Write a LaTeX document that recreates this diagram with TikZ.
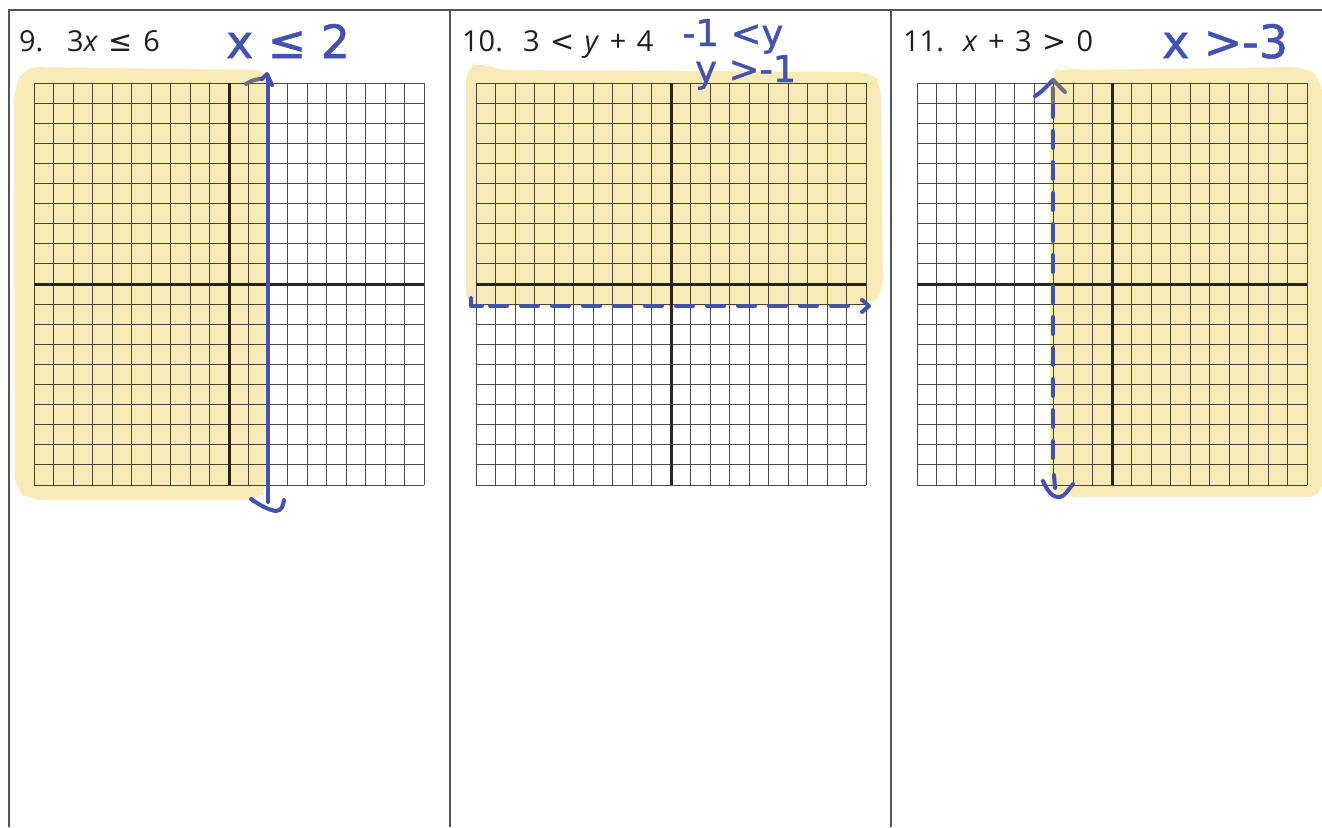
\documentclass[tikz,border=0pt]{standalone}
\usepackage{fontspec}
\setmainfont{Open Sans}
\newfontfamily\symfont{DejaVu Sans}
\newfontfamily\handfont[FakeBold=1.2]{DejaVu Sans}
\definecolor{hl}{HTML}{F9EBB8}
\definecolor{pen}{HTML}{4352B0}
\definecolor{pengray}{HTML}{6E6E7E}
\definecolor{frame}{HTML}{555555}
\definecolor{gridc}{HTML}{4A4A4A}
\newcommand\gp{\hspace{0.36em}}
\tikzset{
  framebox/.style={draw=frame, line width=2bp},
  gridline/.style={draw=gridc, line width=0.9bp},
  axisline/.style={draw=black!85, line width=3bp},
  highlight/.style={fill=hl, blend mode=multiply, rounded corners=14bp},
  penline/.style={draw=pen, line width=4bp, line cap=round, line join=round},
  pendash/.style={penline, dash pattern=on 17bp off 14bp},
  printed/.style={inner sep=0pt, anchor=base west, font=\fontsize{29}{32}\selectfont, text=black!88},
  hand/.style={inner sep=0pt, anchor=base west, text=pen, font=\handfont\fontsize{46}{50}\selectfont},
  handsmall/.style={hand, font=\handfont\fontsize{37}{40}\selectfont},
}
\newcommand\gridpanel[1]{%
  \foreach \i in {0,...,20} \draw[gridline] ({#1+\i*19.5},83) -- ({#1+\i*19.5},485);
  \foreach \j in {0,...,20} \draw[gridline] (#1,{83+\j*20.1}) -- ({#1+390},{83+\j*20.1});
  \draw[axisline] ({#1+195},83) -- ({#1+195},485);
  \draw[axisline] (#1,284.5) -- ({#1+390},284.5);
}
\begin{document}
\begin{tikzpicture}[x=1bp,y=-1bp]
\useasboundingbox (0,0) rectangle (1322,827);
\fill[white] (0,0) rectangle (1322,827);
% frame
\draw[framebox] (9,827) -- (9,10) -- (1322,10);
\draw[framebox] (450,10) -- (450,827);
\draw[framebox] (891,10) -- (891,827);
% grids
\gridpanel{34}
\gridpanel{476}
\gridpanel{917}
% highlights
\fill[highlight] (268,70) -- (24,67) -- (14,90) -- (15,490) -- (30,500) -- (258,500) -- (268,488) -- cycle;
\fill[highlight] (466,306) -- (466,68) -- (480,61) -- (495,70) -- (872,72) -- (881,84) -- (883,292) -- (870,306) -- cycle;
\fill[highlight] (1050,492) -- (1050,74) -- (1062,66) -- (1072,70) -- (1305,67) -- (1322,78) -- (1322,497) -- (1062,497) -- cycle;
% printed labels
\node[printed] (n9) at (19,51) {9.};
\node[printed] (e9) at (67,51) {3\textit{x}\gp{\symfont ≤}\gp 6};
\node[printed] (n10) at (462,51) {10.};
\node[printed] (e10) at (523,51) {3\gp{\symfont <}\gp\textit{y}\gp+\gp4};
\node[printed] (n11) at (903,51) {11.};
\node[printed] (e11) at (963,51) {\textit{x}\gp+\gp3\gp{\symfont >}\gp0};
% handwritten labels
\node[hand] (h9) at (226,58) {x ≤ 2};
\node[handsmall] (h10a) at (682,46) {-1 <y};
\node[handsmall] (h10b) at (695,82) {y >-1};
\node[hand] (h11) at (1162,58) {x >-3};
% panel 1 boundary (solid)
\draw[penline] (268,76) -- (268,502);
\draw[penline, draw=pengray] (246,84) .. controls (252,80) and (257,79) .. (262,79);
\draw[penline] (262,79) -- (267,74) -- (272,85);
\draw[penline] (251,499) .. controls (258,504) and (268,510) .. (276,511) .. controls (282,511) and (283,505) .. (284,500);
% panel 2 boundary (dashed)
\draw[penline] (471,298) -- (471,306) -- (482,306);
\draw[pendash] (490,306) -- (862,306);
\draw[penline] (862,300) -- (869,306) -- (862,312);
% panel 3 boundary (dashed)
\draw[pendash] (1053,100) -- (1053,470);
\draw[penline, draw=pengray] (1053,88) -- (1053,102);
\draw[penline] (1035,96) .. controls (1042,92) and (1047,86) .. (1053,80);
\draw[penline, draw=pengray] (1053,80) -- (1065,92);
\draw[penline] (1054,475) -- (1055,488);
\draw[penline] (1043,481) .. controls (1047,490) and (1052,498) .. (1060,497) .. controls (1065,496) and (1068,490) .. (1073,484);
\end{tikzpicture}
\end{document}
